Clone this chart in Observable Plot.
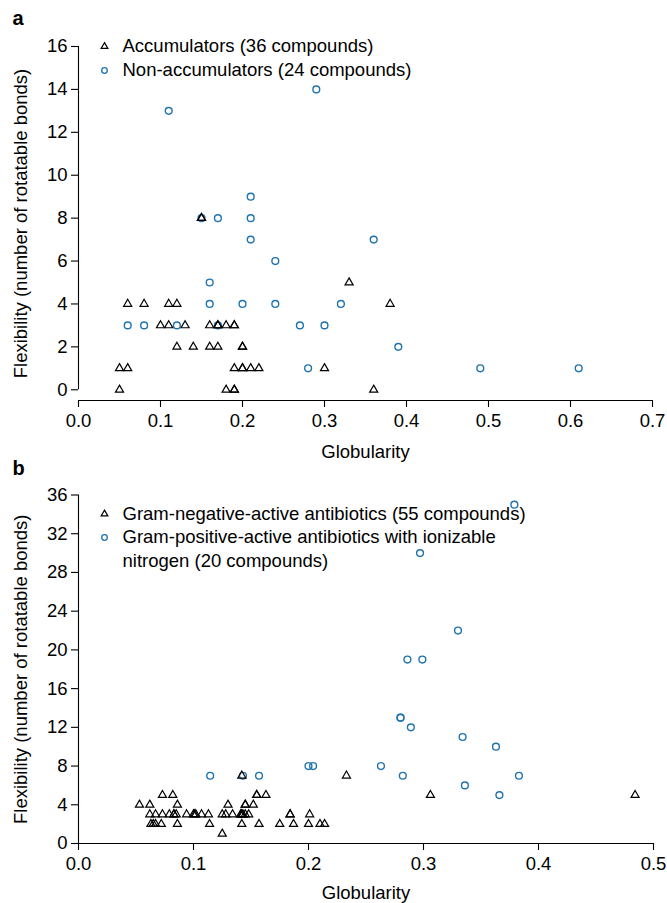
<!DOCTYPE html>
<html><head><meta charset="utf-8">
<script src="https://cdn.jsdelivr.net/npm/d3@7"></script>
<script src="https://cdn.jsdelivr.net/npm/@observablehq/plot@0.6"></script>
<style>
body{margin:0;background:#fff;}
#wrap{position:relative;width:667px;height:903px;overflow:hidden;}
#wrap svg{position:absolute;left:0;}
</style>
</head><body><div id="wrap"></div>
<script>
// ---------- Panel a data ----------
const xTicksA = [0, 0.1, 0.2, 0.3, 0.4, 0.5, 0.6, 0.7];
const yTicksA = [0, 2, 4, 6, 8, 10, 12, 14, 16];
const accX = [0.05,0.05,0.06,0.06,0.08,0.10,0.11,0.11,0.12,0.12,0.13,0.14,0.15,0.15,0.16,0.17,0.17,0.18,0.19,0.19,0.16,0.17,0.20,0.20,0.18,0.19,0.19,0.19,0.20,0.20,0.21,0.22,0.30,0.33,0.38,0.36];
const accY = [0,1,1,4,4,3,3,4,4,2,3,2,8,8,3,3,3,3,3,3,2,2,2,2,0,0,0,1,1,1,1,1,1,5,4,0];
const nonX = [0.11,0.06,0.08,0.12,0.17,0.15,0.16,0.16,0.17,0.20,0.21,0.21,0.21,0.29,0.24,0.24,0.27,0.30,0.28,0.32,0.36,0.39,0.49,0.61];
const nonY = [13,3,3,3,8,8,5,4,3,4,9,8,7,14,6,4,3,3,1,4,7,2,1,1];
const legendA = ["Accumulators (36 compounds)", "Non-accumulators (24 compounds)"];

// ---------- Panel b data ----------
const xTicksB = [0, 0.1, 0.2, 0.3, 0.4, 0.5];
const yTicksB = [0, 4, 8, 12, 16, 20, 24, 28, 32, 36];
const gnX = [0.073,0.082,0.155,0.155,0.163,0.306,0.484,
  0.053,0.062,0.086,0.130,0.145,0.145,0.152,
  0.062,0.067,0.073,0.079,0.083,0.083,0.085,0.094,0.100,0.101,0.102,0.107,0.113,0.125,0.128,0.134,0.141,0.142,0.142,0.143,0.145,0.148,0.184,0.184,0.201,
  0.063,0.065,0.067,0.072,0.086,0.114,0.142,0.157,0.175,0.187,0.200,0.210,0.214,
  0.125,
  0.142,0.233];
const gnY = [5,5,5,5,5,5,5,
  4,4,4,4,4,4,4,
  3,3,3,3,3,3,3,3,3,3,3,3,3,3,3,3,3,3,3,3,3,3,3,3,3,
  2,2,2,2,2,2,2,2,2,2,2,2,2,
  1,
  7,7];
const gpX = [0.379,0.297,0.330,0.286,0.299,0.280,0.280,0.289,0.334,0.363,0.200,0.204,0.263,0.282,0.383,0.336,0.366,0.157,0.143,0.1145];
const gpY = [35,30,22,19,19,13,13,12,11,10,8,8,8,7,7,6,5,7,7,7];
const legendB = ["Gram-negative-active antibiotics (55 compounds)", "Gram-positive-active antibiotics with ionizable", "nitrogen (20 compounds)"];

const xTitle = "Globularity";
const yTitle = "Flexibility (number of rotatable bonds)";

const FONT = "'Liberation Sans', Arial, Helvetica, sans-serif";
const BLUE = "#1f73ae";
const style = {fontFamily: FONT, fontSize: "18.5px", background: "transparent", overflow: "visible", color: "#000"};

const plotA = Plot.plot({
  width: 667, height: 470,
  marginTop: 46, marginBottom: 70, marginLeft: 78, marginRight: 15,
  style,
  x: {domain: [xTicksA[0], xTicksA[xTicksA.length - 1]]},
  y: {domain: [-0.5, yTicksA[yTicksA.length - 1]]},
  marks: [
    Plot.ruleX([xTicksA[0]], {y1: yTicksA[0], y2: yTicksA[yTicksA.length - 1], stroke: "#000", strokeWidth: 1.1}),
    Plot.ruleY([-0.5], {x1: xTicksA[0], x2: xTicksA[xTicksA.length - 1], stroke: "#000", strokeWidth: 1.1}),
    Plot.axisY(yTicksA, {tickSize: 7, tickPadding: 4, label: null, strokeWidth: 1.1}),
    Plot.axisX(xTicksA, {tickSize: 7, tickPadding: 6, label: null, tickFormat: d3.format(".1f"), strokeWidth: 1.1}),
    Plot.dot(nonX, {x: nonX, y: nonY, r: 3.4, stroke: BLUE, strokeWidth: 1.4, fill: "none"}),
    Plot.dot(accX, {x: accX, y: accY, symbol: "triangle", r: 3, stroke: "#000", strokeWidth: 1.2, fill: "none"}),
    Plot.text([xTitle], {frameAnchor: "bottom", dy: 52, text: d => d, lineAnchor: "middle"}),
    Plot.text([yTitle], {frameAnchor: "left", dx: -57, rotate: -90, text: d => d, textAnchor: "middle", lineAnchor: "middle"}),
    Plot.text(["a"], {frameAnchor: "top-left", dx: -66, dy: -28, text: d => d, textAnchor: "start", lineAnchor: "middle", fontWeight: "bold", fontSize: 20}),
    Plot.dot([legendA[0]], {frameAnchor: "top-left", dx: 26, dy: 0, symbol: "triangle", r: 2.5, stroke: "#000", strokeWidth: 1.2, fill: "none"}),
    Plot.text([legendA[0]], {frameAnchor: "top-left", dx: 44, dy: 0, text: d => d, textAnchor: "start", lineAnchor: "middle"}),
    Plot.dot([legendA[1]], {frameAnchor: "top-left", dx: 26, dy: 24, r: 2.8, stroke: BLUE, strokeWidth: 1.3, fill: "none"}),
    Plot.text([legendA[1]], {frameAnchor: "top-left", dx: 44, dy: 24, text: d => d, textAnchor: "start", lineAnchor: "middle"})
  ]
});
plotA.style.top = "0px";

const plotB = Plot.plot({
  width: 667, height: 463,
  marginTop: 54.5, marginBottom: 60, marginLeft: 78, marginRight: 14,
  style,
  x: {domain: [xTicksB[0], xTicksB[xTicksB.length - 1]]},
  y: {domain: [yTicksB[0], yTicksB[yTicksB.length - 1]]},
  marks: [
    Plot.ruleX([xTicksB[0]], {y1: yTicksB[0], y2: yTicksB[yTicksB.length - 1], stroke: "#000", strokeWidth: 1.1}),
    Plot.ruleY([yTicksB[0]], {x1: xTicksB[0], x2: xTicksB[xTicksB.length - 1], stroke: "#000", strokeWidth: 1.1}),
    Plot.axisY(yTicksB, {tickSize: 7, tickPadding: 4, label: null, strokeWidth: 1.1}),
    Plot.axisX(xTicksB, {tickSize: 7, tickPadding: 6, label: null, tickFormat: d3.format(".1f"), strokeWidth: 1.1}),
    Plot.dot(gpX, {x: gpX, y: gpY, r: 3.4, stroke: BLUE, strokeWidth: 1.4, fill: "none"}),
    Plot.dot(gnX, {x: gnX, y: gnY, symbol: "triangle", r: 3, stroke: "#000", strokeWidth: 1.2, fill: "none"}),
    Plot.text([xTitle], {frameAnchor: "bottom", dy: 50, text: d => d, lineAnchor: "middle"}),
    Plot.text([yTitle], {frameAnchor: "left", dx: -57, rotate: -90, text: d => d, textAnchor: "middle", lineAnchor: "middle"}),
    Plot.text(["b"], {frameAnchor: "top-left", dx: -66, dy: -26, text: d => d, textAnchor: "start", lineAnchor: "middle", fontWeight: "bold", fontSize: 20}),
    Plot.dot([legendB[0]], {frameAnchor: "top-left", dx: 26, dy: 19, symbol: "triangle", r: 2.5, stroke: "#000", strokeWidth: 1.2, fill: "none"}),
    Plot.text([legendB[0]], {frameAnchor: "top-left", dx: 44, dy: 19, text: d => d, textAnchor: "start", lineAnchor: "middle"}),
    Plot.dot([legendB[1]], {frameAnchor: "top-left", dx: 26, dy: 42.5, r: 2.8, stroke: BLUE, strokeWidth: 1.3, fill: "none"}),
    Plot.text([legendB[1]], {frameAnchor: "top-left", dx: 44, dy: 42.5, text: d => d, textAnchor: "start", lineAnchor: "middle"}),
    Plot.text([legendB[2]], {frameAnchor: "top-left", dx: 44, dy: 66, text: d => d, textAnchor: "start", lineAnchor: "middle"})
  ]
});
plotB.style.top = "440px";

const wrap = document.getElementById("wrap");
wrap.appendChild(plotA);
wrap.appendChild(plotB);
</script>
</body></html>
